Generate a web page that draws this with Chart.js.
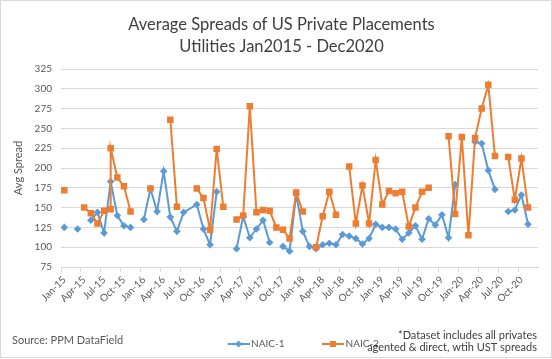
<!DOCTYPE html>
<html>
<head>
<meta charset="utf-8">
<title>Average Spreads of US Private Placements</title>
<script src="https://cdn.jsdelivr.net/npm/chart.js@4.4.1/dist/chart.umd.min.js"></script>
<style>
  html, body { margin: 0; padding: 0; background: #fff; }
  #wrap { width: 552px; height: 359px; position: relative; }
</style>
</head>
<body>
<div id="wrap"><canvas id="spreadChart"></canvas></div>
<script>
const FONT = 'Lato, "Open Sans", sans-serif';

// month categories on the x axis
const months = [
  'Jan-15','Feb-15','Mar-15','Apr-15','May-15','Jun-15','Jul-15','Aug-15','Sep-15','Oct-15','Nov-15','Dec-15',
  'Jan-16','Feb-16','Mar-16','Apr-16','May-16','Jun-16','Jul-16','Aug-16','Sep-16','Oct-16','Nov-16','Dec-16',
  'Jan-17','Feb-17','Mar-17','Apr-17','May-17','Jun-17','Jul-17','Aug-17','Sep-17','Oct-17','Nov-17','Dec-17',
  'Jan-18','Feb-18','Mar-18','Apr-18','May-18','Jun-18','Jul-18','Aug-18','Sep-18','Oct-18','Nov-18','Dec-18',
  'Jan-19','Feb-19','Mar-19','Apr-19','May-19','Jun-19','Jul-19','Aug-19','Sep-19','Oct-19','Nov-19','Dec-19',
  'Jan-20','Feb-20','Mar-20','Apr-20','May-20','Jun-20','Jul-20','Aug-20','Sep-20','Oct-20','Nov-20','Dec-20'
];

// [month, spread]; null = blank month (line breaks), months left out are bridged
const naic1 = [
  ['Jan-15', 125], ['Feb-15', null], ['Mar-15', 123], ['Apr-15', null],
  ['May-15', 134], ['Jun-15', 144], ['Jul-15', 118], ['Aug-15', 183], ['Sep-15', 140],
  ['Oct-15', 127], ['Nov-15', 125], ['Dec-15', null],
  ['Jan-16', 135], ['Feb-16', 174], ['Mar-16', 145], ['Apr-16', 196], ['May-16', 138],
  ['Jun-16', 120], ['Jul-16', 144], ['Sep-16', 154], ['Oct-16', 123], ['Nov-16', 103],
  ['Dec-16', 170], ['Jan-17', null],
  ['Mar-17', 98], ['Apr-17', 139], ['May-17', 112], ['Jun-17', 123], ['Jul-17', 134],
  ['Aug-17', 106], ['Sep-17', null],
  ['Oct-17', 101], ['Nov-17', 95], ['Dec-17', 167], ['Jan-18', 120], ['Feb-18', 101],
  ['Mar-18', 98], ['Apr-18', 103], ['May-18', 105], ['Jun-18', 103], ['Jul-18', 116],
  ['Aug-18', 114], ['Sep-18', 111], ['Oct-18', 104], ['Nov-18', 111], ['Dec-18', 129],
  ['Jan-19', 125], ['Feb-19', 125], ['Mar-19', 123], ['Apr-19', 110], ['May-19', 118],
  ['Jun-19', 127], ['Jul-19', 110], ['Aug-19', 136], ['Sep-19', 128], ['Oct-19', 141],
  ['Nov-19', 112], ['Dec-19', 179], ['Jan-20', null],
  ['Mar-20', 233], ['Apr-20', 231], ['May-20', 197], ['Jun-20', 173], ['Jul-20', null],
  ['Aug-20', 145], ['Sep-20', 147], ['Oct-20', 166], ['Nov-20', 129]
];

const naic2 = [
  ['Jan-15', 172], ['Feb-15', null],
  ['Apr-15', 150], ['May-15', 143], ['Jun-15', 130], ['Jul-15', 146], ['Aug-15', 148],
  ['Aug-15', 225], ['Sep-15', 188], ['Oct-15', 177], ['Nov-15', 145], ['Dec-15', null],
  ['Feb-16', 174], ['Mar-16', null],
  ['May-16', 261], ['Jun-16', 151], ['Jul-16', null],
  ['Sep-16', 174], ['Oct-16', 162], ['Nov-16', 122], ['Dec-16', 224], ['Jan-17', 151], ['Feb-17', null],
  ['Mar-17', 135], ['Apr-17', 140], ['May-17', 278], ['Jun-17', 144], ['Jul-17', 147],
  ['Aug-17', 146], ['Sep-17', 125], ['Oct-17', 122], ['Nov-17', 111], ['Dec-17', 169],
  ['Jan-18', 145], ['Feb-18', null],
  ['Mar-18', 100], ['Apr-18', 139], ['May-18', 170], ['Jun-18', 141], ['Jul-18', null],
  ['Aug-18', 202], ['Sep-18', 130], ['Oct-18', 178], ['Nov-18', 130], ['Dec-18', 210],
  ['Jan-19', 154], ['Feb-19', 171], ['Mar-19', 168], ['Apr-19', 170], ['May-19', 126],
  ['Jun-19', 150], ['Jul-19', 170], ['Aug-19', 175], ['Sep-19', null],
  ['Nov-19', 240], ['Dec-19', 142], ['Jan-20', 239], ['Feb-20', 115], ['Mar-20', 238],
  ['Apr-20', 275], ['May-20', 305], ['Jun-20', 215], ['Jul-20', null],
  ['Aug-20', 214], ['Sep-20', 160], ['Oct-20', 212], ['Nov-20', 150]
];

const yTicks = { min: 75, max: 325, step: 25 };

const titleLines = ['Average Spreads of US Private Placements', 'Utilities Jan2015 - Dec2020'];
const sourceText = 'Source: PPM DataField';
const noteLines = ['*Dataset includes all privates', 'agented & direct, wtih UST spreads'];

const BLUE = '#5B9BD5';
const ORANGE = '#ED7D31';

function toPoints(rows) {
  return rows.map(([m, v]) => ({ x: m, y: v }));
}

// line + marker image for the legend, drawn in the right 22px of the icon
function legendIcon(color, style) {
  const c = document.createElement('canvas');
  c.width = 33; c.height = 10;
  const g = c.getContext('2d');
  g.strokeStyle = color;
  g.lineWidth = 2;
  g.beginPath(); g.moveTo(11, 5); g.lineTo(33, 5); g.stroke();
  g.fillStyle = color;
  g.beginPath();
  if (style === 'rect') {
    g.rect(19, 2, 6, 6);
  } else {
    g.moveTo(22, 1.5); g.lineTo(25.5, 5); g.lineTo(22, 8.5); g.lineTo(18.5, 5); g.closePath();
  }
  g.fill();
  return c;
}

const chartText = {
  id: 'chartText',
  beforeDraw(chart) {
    const ctx = chart.ctx;
    ctx.save();
    ctx.fillStyle = '#fff';
    ctx.fillRect(0, 0, chart.width, chart.height);
    ctx.strokeStyle = '#d9d9d9';
    ctx.lineWidth = 1;
    ctx.strokeRect(0.5, 0.5, 551, 357);
    ctx.restore();
  },
  afterDraw(chart) {
    const ctx = chart.ctx;
    ctx.save();
    ctx.textBaseline = 'middle';
    ctx.textAlign = 'center';
    ctx.fillStyle = '#404040';
    ctx.font = '16.5px ' + FONT;
    ctx.fillText(titleLines[0], 281.5, 25);
    ctx.fillText(titleLines[1], 281.5, 47);

    ctx.font = '11px ' + FONT;
    ctx.textAlign = 'left';
    ctx.fillStyle = '#595959';
    ctx.fillText(sourceText, 12, 340);

    ctx.textAlign = 'right';
    ctx.fillStyle = '#404040';
    ctx.fillText(noteLines[0], 537, 335);
    ctx.fillText(noteLines[1], 537, 347);
    ctx.restore();
  }
};

new Chart(document.getElementById('spreadChart'), {
  type: 'line',
  data: {
    labels: months,
    datasets: [
      {
        label: 'NAIC-1',
        data: toPoints(naic1),
        borderColor: BLUE,
        backgroundColor: BLUE,
        borderWidth: 2,
        pointStyle: 'rectRot',
        pointRadius: 3.8,
        pointBorderWidth: 0,
        order: 1
      },
      {
        label: 'NAIC-2',
        data: toPoints(naic2),
        borderColor: ORANGE,
        backgroundColor: ORANGE,
        borderWidth: 2,
        pointStyle: 'rect',
        pointRadius: 4.6,
        pointBorderWidth: 0,
        order: 0
      }
    ]
  },
  options: {
    responsive: true,
    maintainAspectRatio: false,
    animation: false,
    spanGaps: false,
    layout: { padding: { top: 69, left: 0, right: 14, bottom: 0 } },
    plugins: {
      title: { display: false },
      tooltip: { enabled: false },
      legend: {
        position: 'bottom',
        fullSize: false,
        labels: {
          usePointStyle: true,
          pointStyleWidth: 26,
          boxHeight: 8,
          padding: 30,
          color: '#595959',
          font: { family: FONT, size: 10 },
          sort: (a, b) => a.datasetIndex - b.datasetIndex,
          generateLabels: chart => chart.data.datasets.map((ds, i) => ({
            text: ds.label,
            datasetIndex: i,
            pointStyle: legendIcon(ds.borderColor, ds.pointStyle === 'rect' ? 'rect' : 'diamond'),
            fontColor: '#595959',
            fillStyle: 'rgba(0,0,0,0)',
            strokeStyle: 'rgba(0,0,0,0)',
            lineWidth: 0
          }))
        }
      }
    },
    scales: {
      x: {
        type: 'category',
        offset: true,
        afterFit: s => { s.height = 42; },
        border: { display: true, color: '#d9d9d9' },
        grid: {
          offset: true,
          drawOnChartArea: false,
          drawTicks: true,
          tickLength: 5,
          color: '#d9d9d9',
          tickColor: ctx => (ctx.index % 3 === 0 ? '#d9d9d9' : 'rgba(0,0,0,0)')
        },
        ticks: {
          autoSkip: false,
          minRotation: 45,
          maxRotation: 45,
          padding: 2,
          color: '#595959',
          font: { family: FONT, size: 10 },
          callback: function (val, idx) {
            return idx % 3 === 0 ? this.getLabelForValue(val) : '';
          }
        }
      },
      y: {
        min: yTicks.min,
        max: yTicks.max,
        afterFit: s => { s.width = 61; },
        border: { display: false },
        grid: { color: '#d9d9d9', drawTicks: false },
        ticks: {
          stepSize: yTicks.step,
          padding: 9,
          color: '#595959',
          font: { family: FONT, size: 10 }
        },
        title: {
          display: true,
          text: 'Avg Spread',
          color: '#595959',
          font: { family: FONT, size: 11 },
          padding: { top: 12, bottom: 0 }
        }
      }
    }
  },
  plugins: [chartText]
});
</script>
</body>
</html>
